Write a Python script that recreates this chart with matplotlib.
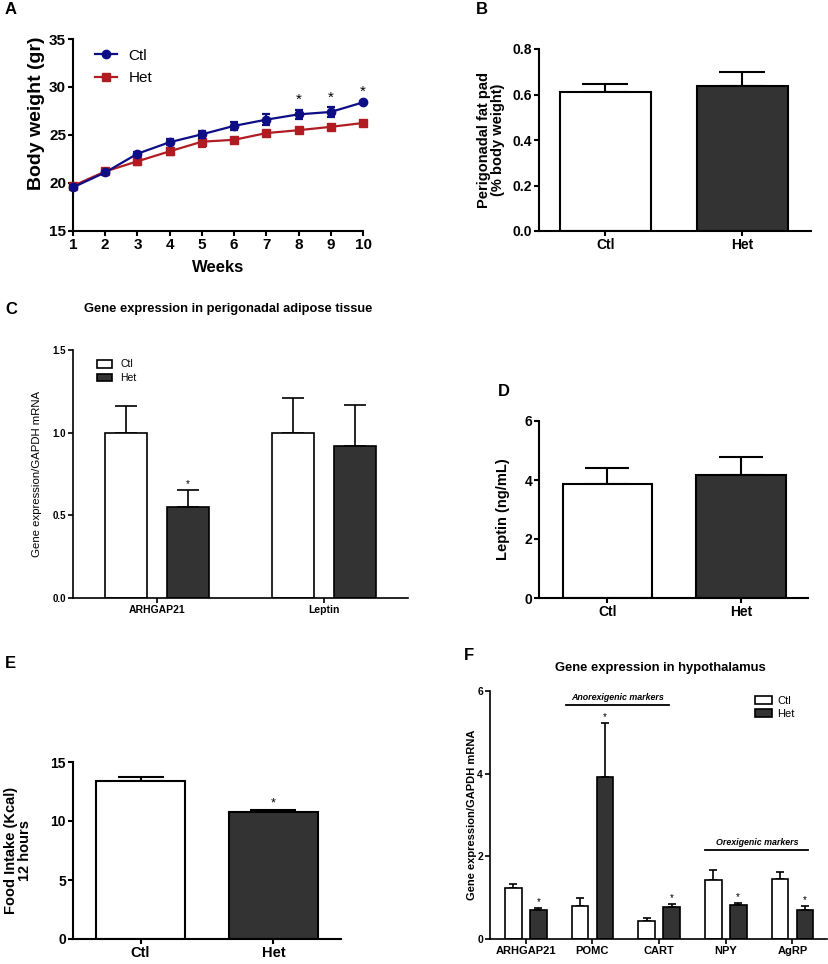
import matplotlib
matplotlib.use('Agg')
import matplotlib.pyplot as plt
import numpy as np
from matplotlib.patches import Patch
from matplotlib.lines import Line2D

plt.rcParams['font.family'] = ['Liberation Sans', 'DejaVu Sans']

# ---------------- data ----------------
weeks = [1, 2, 3, 4, 5, 6, 7, 8, 9, 10]
ctl_bw = [19.55, 21.1, 23.05, 24.25, 25.07, 25.95, 26.6, 27.15, 27.4, 28.4]
ctl_bw_err = [0.2, 0.15, 0.15, 0.3, 0.35, 0.45, 0.55, 0.5, 0.5, 0.15]
het_bw = [19.7, 21.2, 22.26, 23.3, 24.3, 24.5, 25.2, 25.5, 25.85, 26.25]
het_bw_err = [0.2, 0.15, 0.4, 0.35, 0.6, 0.2, 0.15, 0.15, 0.15, 0.15]
bw_sig_weeks = [8, 9, 10]

groups2 = ['Ctl', 'Het']
fatpad = [0.612, 0.636]
fatpad_err = [0.035, 0.063]

adipose_genes = ['ARHGAP21', 'Leptin']
adipose_ctl = [1.0, 1.0]
adipose_ctl_err = [0.162, 0.212]
adipose_het = [0.55, 0.92]
adipose_het_err = [0.102, 0.248]
adipose_sig = [True, False]

leptin = [3.87, 4.16]
leptin_err = [0.55, 0.61]

food = [13.36, 10.8]
food_err = [0.34, 0.15]
food_sig = [False, True]

hypo_genes = ['ARHGAP21', 'POMC', 'CART', 'NPY', 'AgRP']
hypo_ctl = [1.23, 0.81, 0.43, 1.42, 1.45]
hypo_ctl_err = [0.11, 0.18, 0.08, 0.24, 0.16]
hypo_het = [0.69, 3.92, 0.77, 0.82, 0.71]
hypo_het_err = [0.06, 1.3, 0.08, 0.05, 0.1]
hypo_sig = [True, True, True, True, True]

CTL_BLUE = '#0d0d85'
HET_RED = '#b01c22'
HET_FILL = '#333333'

W, H = 829, 964
fig = plt.figure(figsize=(W / 100, H / 100), dpi=100)


def axpx(l, t, r, b):
    return fig.add_axes([l / W, 1 - b / H, (r - l) / W, (b - t) / H])


def style(ax, lw, ticksize, tickbold=True):
    for s in ['top', 'right']:
        ax.spines[s].set_visible(False)
    for s in ['left', 'bottom']:
        ax.spines[s].set_linewidth(lw)
    ax.tick_params(direction='out', width=lw, length=3.5, labelsize=ticksize, pad=1.5)
    for lab in ax.get_xticklabels() + ax.get_yticklabels():
        lab.set_fontweight('bold' if tickbold else 'normal')


def ylab(ax, text, x, y=0.5, size=10, weight='bold'):
    ax.set_ylabel(text, fontsize=size, fontweight=weight, va='center', ha='center',
                  multialignment='center', linespacing=1.05)
    ax.yaxis.set_label_coords(x, y)


def star(ax, x, y, size):
    ax.annotate('*', (x, y), xytext=(0, 0.5), textcoords='offset points',
                ha='center', va='bottom', fontsize=size, annotation_clip=False)


def panel_letter(x, y, s):
    fig.text(x / W, 1 - y / H, s, fontsize=12, fontweight='bold', ha='center', va='center')


# ---------------- A ----------------
axA = axpx(73, 39, 363, 231)
axA.errorbar(weeks, ctl_bw, yerr=ctl_bw_err, color=CTL_BLUE, marker='o', ms=6,
             lw=1.6, capsize=3, capthick=1.6, elinewidth=1.6, clip_on=False, zorder=4)
axA.errorbar(weeks, het_bw, yerr=het_bw_err, color=HET_RED, marker='s', ms=6,
             lw=1.6, capsize=3, capthick=1.6, elinewidth=1.6, clip_on=False, zorder=3)
axA.set_xlim(1, 10)
axA.set_ylim(15, 35)
axA.set_xticks(weeks)
axA.set_yticks([15, 20, 25, 30, 35])
style(axA, 1.5, 11)
for w in bw_sig_weeks:
    i = weeks.index(w)
    star(axA, w, ctl_bw[i] + ctl_bw_err[i] + 0.2, 11)
ylab(axA, 'Body weight (gr)', -0.125, 0.615, size=14)
axA.set_xlabel('Weeks', fontsize=12, fontweight='bold')
axA.xaxis.set_label_coords(0.5, -0.19)
axA.xaxis.label.set_va('center')
hA = [Line2D([], [], color=CTL_BLUE, marker='o', ms=6, lw=1.6),
      Line2D([], [], color=HET_RED, marker='s', ms=6, lw=1.6)]
axA.legend(hA, groups2, loc='upper left', bbox_to_anchor=(0.076, 0.95), frameon=False,
           borderpad=0, borderaxespad=0, handlelength=1.45, handletextpad=0.75,
           labelspacing=0.55, fontsize=11)
panel_letter(11, 10, 'A')


def two_bars(ax, vals, errs, lw, capsize):
    x = np.arange(len(vals))
    ax.bar(x, vals, width=0.67, color=['white', HET_FILL], edgecolor='black', linewidth=lw, zorder=2)
    ax.errorbar(x, vals, yerr=[np.zeros(len(vals)), errs], fmt='none', ecolor='black',
                elinewidth=lw, capsize=capsize, capthick=lw, zorder=1)
    ax.set_xticks(x)
    ax.set_xticklabels(groups2)
    return x


# ---------------- B ----------------
axB = axpx(539, 49, 811, 231)
two_bars(axB, fatpad, fatpad_err, 1.5, 16.5)
axB.set_xlim(-0.485, 1.5)
axB.set_ylim(0, 0.8)
axB.set_yticks([0.0, 0.2, 0.4, 0.6, 0.8])
axB.set_yticklabels(['0.0', '0.2', '0.4', '0.6', '0.8'])
style(axB, 1.5, 10)
ylab(axB, 'Perigonadal fat pad\n(% body weight)', -0.176, size=10.5)
panel_letter(482, 9, 'B')

# ---------------- C ----------------
axC = axpx(73, 350, 408, 598)
xc = np.arange(len(adipose_genes))
off = 0.187
bw = 0.249
axC.bar(xc - off, adipose_ctl, width=bw, color='white', edgecolor='black', linewidth=1.2, zorder=2)
axC.bar(xc + off, adipose_het, width=bw, color=HET_FILL, edgecolor='black', linewidth=1.2, zorder=2)
axC.errorbar(xc - off, adipose_ctl, yerr=[np.zeros(2), adipose_ctl_err], fmt='none',
             ecolor='black', elinewidth=1.2, capsize=8, capthick=1.2, zorder=1)
axC.errorbar(xc + off, adipose_het, yerr=[np.zeros(2), adipose_het_err], fmt='none',
             ecolor='black', elinewidth=1.2, capsize=8, capthick=1.2, zorder=1)
for i, s in enumerate(adipose_sig):
    if s:
        star(axC, xc[i] + off, adipose_het[i] + adipose_het_err[i], 7)
axC.set_xlim(-0.503, 1.503)
axC.set_ylim(0, 1.5)
axC.set_xticks(xc)
axC.set_xticklabels(adipose_genes)
axC.set_yticks([0.0, 0.5, 1.0, 1.5])
axC.set_yticklabels(['0.0', '0.5', '1.0', '1.5'])
style(axC, 1.2, 7)
for lab in axC.get_xticklabels():
    lab.set_fontsize(7.5)
ylab(axC, 'Gene expression/GAPDH mRNA', -0.107, size=8.2, weight='normal')
hC = [Patch(facecolor='white', edgecolor='black', linewidth=1.2),
      Patch(facecolor=HET_FILL, edgecolor='black', linewidth=1.2)]
axC.legend(hC, groups2, loc='upper left', bbox_to_anchor=(0.0716, 0.962), frameon=False,
           borderpad=0, borderaxespad=0, handlelength=1.45, handleheight=0.75,
           handletextpad=0.8, labelspacing=0.35, fontsize=7.5)
fig.text(228 / W, 1 - 309 / H, 'Gene expression in perigonadal adipose tissue',
         fontsize=9.3, fontweight='bold', ha='center', va='center')
panel_letter(11, 310, 'C')

# ---------------- D ----------------
axD = axpx(539, 421, 808, 598)
two_bars(axD, leptin, leptin_err, 1.5, 16)
axD.set_xlim(-0.513, 1.502)
axD.set_ylim(0, 6)
axD.set_yticks([0, 2, 4, 6])
style(axD, 1.5, 10)
ylab(axD, 'Leptin (ng/mL)', -0.134, size=10.5)
panel_letter(504, 392, 'D')

# ---------------- E ----------------
axE = axpx(73, 762, 341, 939)
xe = two_bars(axE, food, food_err, 1.5, 16.5)
for i, s in enumerate(food_sig):
    if s:
        star(axE, xe[i], food[i] + food_err[i], 9)
axE.set_xlim(-0.508, 1.508)
axE.set_ylim(0, 15)
axE.set_yticks([0, 5, 10, 15])
style(axE, 1.5, 10)
for lab in axE.get_xticklabels():
    lab.set_fontsize(10.5)
ylab(axE, 'Food Intake (Kcal)\n12 hours', -0.205, size=10.5)
panel_letter(10, 664, 'E')

# ---------------- F ----------------
axF = axpx(490, 691, 827, 939)
xf = np.arange(len(hypo_genes))
offf = 0.1875
bwf = 0.25
axF.bar(xf - offf, hypo_ctl, width=bwf, color='white', edgecolor='black', linewidth=1.2, zorder=2)
axF.bar(xf + offf, hypo_het, width=bwf, color=HET_FILL, edgecolor='black', linewidth=1.2, zorder=2)
axF.errorbar(xf - offf, hypo_ctl, yerr=[np.zeros(5), hypo_ctl_err], fmt='none',
             ecolor='black', elinewidth=1.2, capsize=3.2, capthick=1.2, zorder=1)
axF.errorbar(xf + offf, hypo_het, yerr=[np.zeros(5), hypo_het_err], fmt='none',
             ecolor='black', elinewidth=1.2, capsize=3.2, capthick=1.2, zorder=1)
for i, s in enumerate(hypo_sig):
    if s:
        star(axF, xf[i] + offf, hypo_het[i] + hypo_het_err[i], 7)
axF.set_xlim(-0.537, 4.52)
axF.set_ylim(0, 6)
axF.set_xticks(xf)
axF.set_xticklabels(hypo_genes)
axF.set_yticks([0, 2, 4, 6])
style(axF, 1.2, 7.5)
for lab in axF.get_xticklabels():
    lab.set_fontsize(8)
ylab(axF, 'Gene expression/GAPDH mRNA', -0.053, size=8)
# marker group brackets
axF.plot([1 - 0.4, 2 + 0.15], [5.65, 5.65], color='black', lw=1.3, clip_on=False)
axF.text(1 + 0.38, 5.74, 'Anorexigenic markers', fontsize=6.4, fontweight='bold',
         fontstyle='italic', ha='center', va='bottom')
axF.plot([3 - 0.31, 4 + 0.24], [2.145, 2.145], color='black', lw=1.3, clip_on=False)
axF.text(3 + 0.48, 2.235, 'Orexigenic markers', fontsize=6.4, fontweight='bold',
         fontstyle='italic', ha='center', va='bottom')
hF = [Patch(facecolor='white', edgecolor='black', linewidth=1.2),
      Patch(facecolor=HET_FILL, edgecolor='black', linewidth=1.2)]
axF.legend(hF, groups2, loc='upper left', bbox_to_anchor=(0.786, 0.98), frameon=False,
           borderpad=0, borderaxespad=0, handlelength=1.55, handleheight=0.7,
           handletextpad=0.45, labelspacing=0.25, fontsize=8)
fig.text(660 / W, 1 - 668 / H, 'Gene expression in hypothalamus',
         fontsize=9.4, fontweight='bold', ha='center', va='center')
panel_letter(469, 655, 'F')

fig.savefig('out.png', dpi=100)
